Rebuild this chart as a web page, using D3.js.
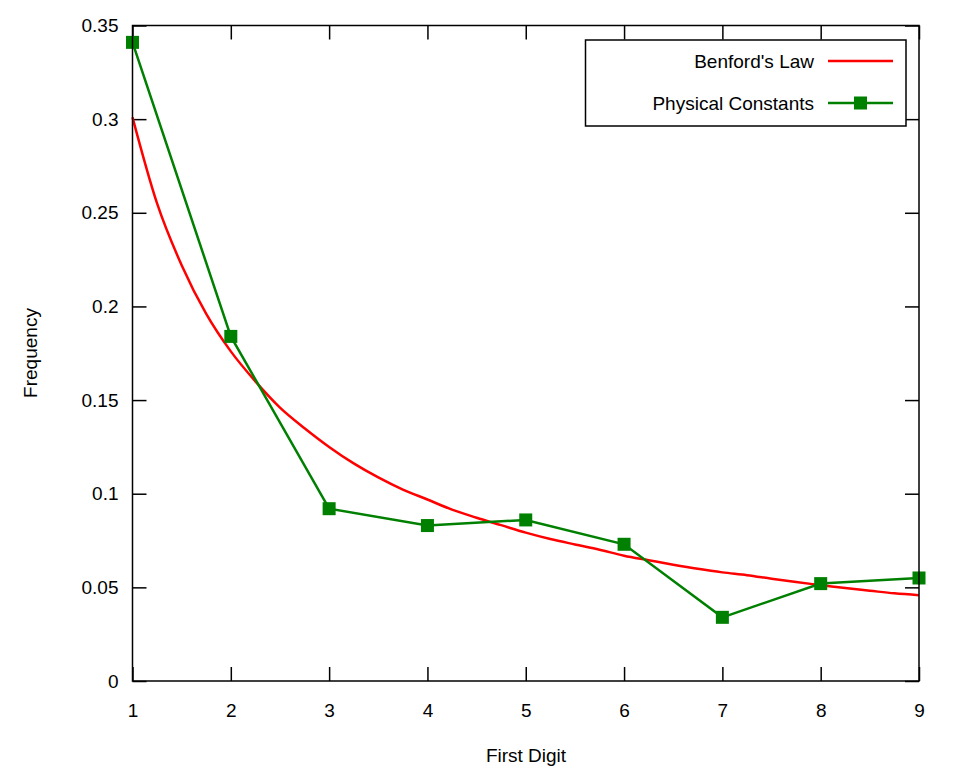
<!DOCTYPE html>
<html>
<head>
<meta charset="utf-8">
<script src="https://cdn.jsdelivr.net/npm/d3@7"></script>
<style>
  body { margin: 0; background: #fff; }
  svg { font-family: "Liberation Sans", Arial, sans-serif; }
</style>
</head>
<body>
<svg></svg>
<script>
// Benford's law curve
let benfordX = [1, 1.25, 1.5, 1.75, 2, 2.25, 2.5, 2.75, 3, 3.25, 3.5, 3.75, 4, 4.25, 4.5, 4.75,
  5, 5.25, 5.5, 5.75, 6, 6.25, 6.5, 6.75, 7, 7.25, 7.5, 7.75, 8, 8.25, 8.5, 8.75, 9]
let benfordY = [0.301, 0.255, 0.222, 0.196, 0.176, 0.160, 0.146, 0.135, 0.125, 0.1162, 0.1087, 0.1022,
  0.0969, 0.0915, 0.0872, 0.0832, 0.0792, 0.0758, 0.0729, 0.0701, 0.0669, 0.0645, 0.0621, 0.0599,
  0.058, 0.0565, 0.0546, 0.0528, 0.0512, 0.0496, 0.0482, 0.0468, 0.0458]

// physical constants, first digit frequency
let digits = [1, 2, 3, 4, 5, 6, 7, 8, 9]
let constants = [0.341, 0.184, 0.092, 0.083, 0.086, 0.073, 0.034, 0.052, 0.055]

let xTicks = [1, 2, 3, 4, 5, 6, 7, 8, 9]
let yTicks = [0, 0.05, 0.1, 0.15, 0.2, 0.25, 0.3, 0.35]

let width = 959
let height = 768
let plotLeft = 132.5, plotRight = 919, plotTop = 25.5, plotBottom = 681
let tickLen = 14
let fontSize = '19px'

let svg = d3.select('svg').attr('width', width).attr('height', height)

let xScale = d3.scaleLinear().domain([1, 9]).range([plotLeft, plotRight])
let yScale = d3.scaleLinear().domain([0, 0.35]).range([plotBottom, plotTop])

let fmtY = (d) => d === 0 ? '0' : String(+d.toFixed(2))

// axes: ticks inside on all four sides
let axisStyle = (g) => {
  g.select('.domain').remove()
  g.selectAll('line').attr('stroke', '#000').attr('stroke-width', 1.5)
  g.selectAll('text').attr('fill', '#000').style('font-size', fontSize)
}

svg.append('g')
  .attr('transform', 'translate(0,' + plotBottom + ')')
  .call(d3.axisBottom(xScale).tickValues(xTicks).tickFormat(d3.format('d'))
    .tickSizeInner(-tickLen).tickPadding(23))
  .call(axisStyle)

svg.append('g')
  .attr('transform', 'translate(0,' + plotTop + ')')
  .call(d3.axisTop(xScale).tickValues(xTicks).tickFormat('').tickSizeInner(-tickLen))
  .call(axisStyle)

svg.append('g')
  .attr('transform', 'translate(' + plotLeft + ',0)')
  .call(d3.axisLeft(yScale).tickValues(yTicks).tickFormat(fmtY)
    .tickSizeInner(-tickLen).tickPadding(14))
  .call(axisStyle)

svg.append('g')
  .attr('transform', 'translate(' + plotRight + ',0)')
  .call(d3.axisRight(yScale).tickValues(yTicks).tickFormat('').tickSizeInner(-tickLen))
  .call(axisStyle)

// red benford curve
let benford = benfordX.map((x, i) => [x, benfordY[i]])
svg.append('path')
  .datum(benford)
  .attr('fill', 'none')
  .attr('stroke', '#ff0000')
  .attr('stroke-width', 2.5)
  .attr('d', d3.line().x(d => xScale(d[0])).y(d => yScale(d[1])).curve(d3.curveMonotoneX))

// green line with square markers
let phys = digits.map((x, i) => [x, constants[i]])
svg.append('path')
  .datum(phys)
  .attr('fill', 'none')
  .attr('stroke', '#008000')
  .attr('stroke-width', 2.5)
  .attr('d', d3.line().x(d => xScale(d[0])).y(d => yScale(d[1])))

let ms = 13
svg.selectAll('rect.marker')
  .data(phys)
  .enter()
  .append('rect')
  .attr('class', 'marker')
  .attr('x', d => xScale(d[0]) - ms / 2)
  .attr('y', d => yScale(d[1]) - ms / 2)
  .attr('width', ms)
  .attr('height', ms)
  .attr('fill', '#008000')

// plot border
svg.append('rect')
  .attr('x', plotLeft).attr('y', plotTop)
  .attr('width', plotRight - plotLeft).attr('height', plotBottom - plotTop)
  .attr('fill', 'none').attr('stroke', '#000').attr('stroke-width', 1.5)

// axis titles
svg.append('text')
  .attr('x', 526).attr('y', 762)
  .attr('text-anchor', 'middle')
  .style('font-size', fontSize)
  .text('First Digit')

svg.append('text')
  .attr('transform', 'translate(37,353) rotate(-90)')
  .attr('text-anchor', 'middle')
  .style('font-size', fontSize)
  .text('Frequency')

// legend
let legend = svg.append('g')
legend.append('rect')
  .attr('x', 585.5).attr('y', 40)
  .attr('width', 320.5).attr('height', 86)
  .attr('fill', '#fff').attr('stroke', '#000').attr('stroke-width', 1.5)

let legendItems = [
  { name: "Benford's Law", color: '#ff0000', marker: false, y: 61 },
  { name: 'Physical Constants', color: '#008000', marker: true, y: 103 }
]
legendItems.forEach((item) => {
  legend.append('text')
    .attr('x', 814).attr('y', item.y + 6.5)
    .attr('text-anchor', 'end')
    .style('font-size', fontSize)
    .text(item.name)
  legend.append('line')
    .attr('x1', 828).attr('x2', 893)
    .attr('y1', item.y).attr('y2', item.y)
    .attr('stroke', item.color).attr('stroke-width', 2.5)
  if (item.marker) {
    legend.append('rect')
      .attr('x', 860.5 - ms / 2).attr('y', item.y - ms / 2)
      .attr('width', ms).attr('height', ms)
      .attr('fill', item.color)
  }
})
</script>
</body>
</html>
